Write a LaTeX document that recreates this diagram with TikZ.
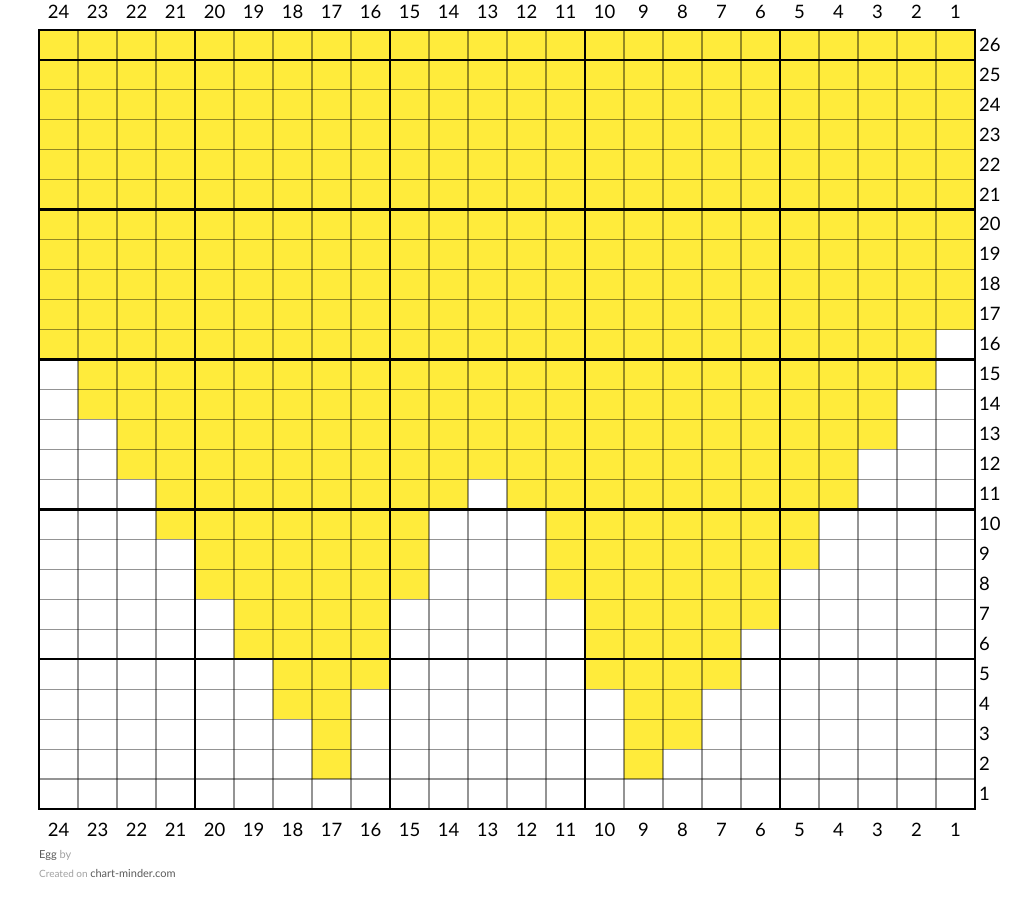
\documentclass[tikz,border=0pt]{standalone}
\usepackage{fontspec}
\setmainfont{Lato}
\definecolor{eggyellow}{RGB}{255,235,59}
\definecolor{creditdark}{RGB}{90,90,90}
\definecolor{creditlight}{RGB}{160,160,160}
\begin{document}
\begin{tikzpicture}[x=1pt,y=-1pt,
  cellfill/.style={fill=eggyellow},
  thinline/.style={draw=black,draw opacity=0.42,line width=1.1pt},
  thickline/.style={draw=black,line width=2.6pt},
  numlabel/.style={font=\fontsize{18.5}{18.5}\selectfont,inner sep=0pt},
  credit/.style={inner sep=0pt,anchor=west}]
\useasboundingbox (0,0) rectangle (1014,903);
\newcommand{\yrun}[3]{\fill[cellfill] ({39+(24-#2)*39},{30+(26-#1)*29.96}) rectangle ({39+(25-#3)*39},{30+(27-#1)*29.96});}
% yellow runs
\foreach \r in {17,...,26}{\yrun{\r}{24}{1}}
\yrun{16}{24}{2}
\yrun{15}{23}{2}
\yrun{14}{23}{3}
\yrun{13}{22}{3}
\yrun{12}{22}{4}
\yrun{11}{21}{14}\yrun{11}{12}{4}
\yrun{10}{21}{15}\yrun{10}{11}{5}
\yrun{9}{20}{15}\yrun{9}{11}{5}
\yrun{8}{20}{15}\yrun{8}{11}{6}
\yrun{7}{19}{16}\yrun{7}{10}{6}
\yrun{6}{19}{16}\yrun{6}{10}{7}
\yrun{5}{18}{16}\yrun{5}{10}{7}
\yrun{4}{18}{17}\yrun{4}{9}{8}
\yrun{3}{17}{17}\yrun{3}{9}{8}
\yrun{2}{17}{17}\yrun{2}{9}{9}
% thin grid
\foreach \i in {1,...,23}{\draw[thinline] ({39+\i*39},30) -- ({39+\i*39},808.96);}
\foreach \j in {1,...,25}{\draw[thinline] (39,{30+\j*29.96}) -- (975,{30+\j*29.96});}
% thick grid
\foreach \i in {4,9,14,19}{\draw[thickline] ({39+\i*39},30) -- ({39+\i*39},808.96);}
\foreach \j in {1,6,11,16,21}{\draw[thickline] (39,{30+\j*29.96}) -- (975,{30+\j*29.96});}
\draw[thickline,line join=miter] (39,30) rectangle (975,808.96);
% column numbers
\foreach \c in {1,...,24}{
  \node[numlabel] (top\c) at ({39+(24-\c)*39+19.5},12) {\c};
  \node[numlabel] (bot\c) at ({39+(24-\c)*39+19.5},829.5) {\c};
}
% row numbers
\foreach \r in {1,...,26}{
  \node[numlabel,anchor=west] (row\r) at (979,{30+(26-\r)*29.96+14.5}) {\r};
}
% credits
\node[credit] (title) at (39,855) {\fontsize{11}{11}\selectfont\textcolor{creditdark}{Egg} \textcolor{creditlight}{by}};
\node[credit] (created) at (39,873) {\fontsize{10}{10}\selectfont\textcolor{creditlight}{Created on} \fontsize{11}{11}\selectfont\textcolor{creditdark}{chart-minder.com}};
\end{tikzpicture}
\end{document}
